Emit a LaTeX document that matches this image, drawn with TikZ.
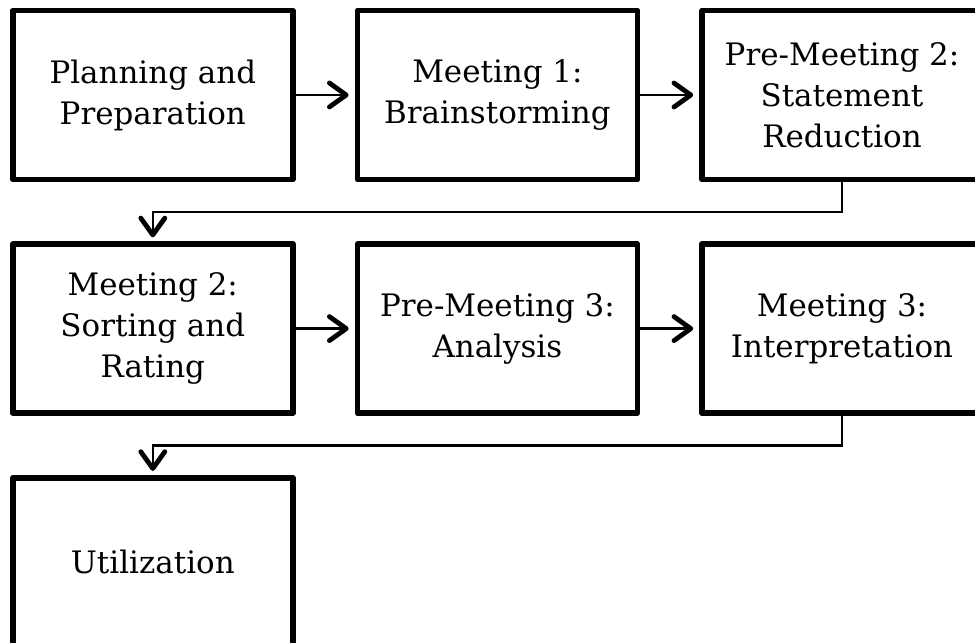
\documentclass[tikz,border=0pt]{standalone}
\usepackage{fontspec}
\setmainfont{DejaVu Serif}
\usetikzlibrary{positioning,arrows.meta}
\begin{document}
\begin{tikzpicture}[node distance=1.475cm,
    stage/.style={draw,line width=.14cm,line join=round,minimum width=7cm,minimum height=4.225cm,
      align=center,inner sep=0pt,font=\fontsize{22}{29.2}\selectfont},
    flow/.style={line width=.06cm,-{Straight Barb[length=.42cm,width=.6cm,line width=.12cm,round]},shorten >=.15cm}]
  \useasboundingbox (-3.82,2.375) rectangle (20.555,-13.675);
  % first row
  \node [stage] (plan) at (0,0) {Planning and\\Preparation};
  \node [stage,right=of plan] (brain) {Meeting 1:\\Brainstorming};
  \node [stage,right=of brain] (reduce) {Pre-Meeting 2:\\Statement\\Reduction};
  % second row
  \node [stage,below=of plan] (sort) {Meeting 2:\\Sorting and\\Rating};
  \node [stage,right=of sort] (anal) {Pre-Meeting 3:\\Analysis};
  \node [stage,right=of anal] (interp) {Meeting 3:\\Interpretation};
  % last row
  \node [stage,below=of sort] (util) {Utilization};
  \draw [flow] (plan) -- (brain);
  \draw [flow] (brain) -- (reduce);
  \draw [flow,shorten >=.1cm] (reduce.south) -- ++(0,-.74) -| (sort.north);
  \draw [flow] (sort) -- (anal);
  \draw [flow] (anal) -- (interp);
  \draw [flow,shorten >=.1cm] (interp.south) -- ++(0,-.74) -| (util.north);
\end{tikzpicture}
\end{document}
